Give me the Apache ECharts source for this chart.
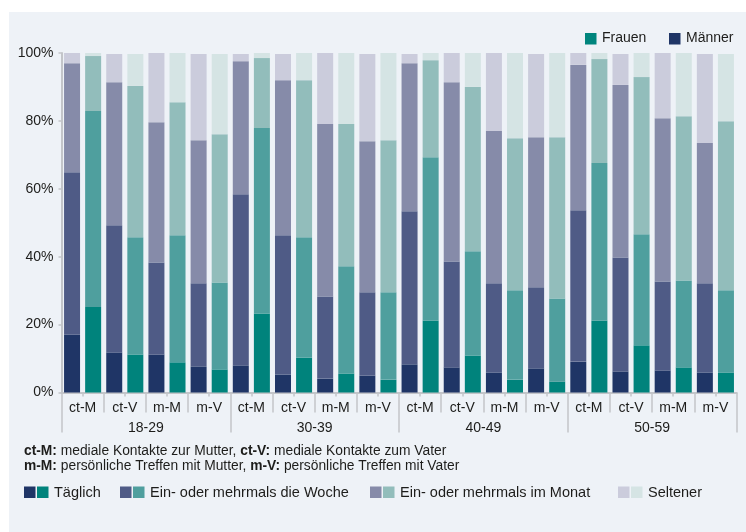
<!DOCTYPE html>
<html lang="de">
<head>
<meta charset="utf-8">
<title>Kontakte zu Eltern nach Alter</title>
<script src="https://cdn.jsdelivr.net/npm/echarts@6/dist/echarts.min.js"></script>
<style>
  html, body { margin: 0; padding: 0; background: #ffffff; }
  #panel { position: absolute; left: 9px; top: 12px; width: 737px; height: 520px; background: #eef2f7; }
  #chart { position: absolute; left: 0; top: 0; width: 746px; height: 532px; }
</style>
</head>
<body>
<div id="panel"></div>
<div id="chart"></div>
<script>
// Age groups and contact types (ct = mediale Kontakte, m = persönliche Treffen)
const ageGroups = ['18-29', '30-39', '40-49', '50-59'];
const contactTypes = ['ct-M', 'ct-V', 'm-M', 'm-V'];
const yTicks = [0, 20, 40, 60, 80, 100];

// Shares in percent, order: per age group ct-M, ct-V, m-M, m-V
const maleDaily   = [17.0, 11.8, 11.2, 7.7,  8.0, 5.3, 4.1, 5.0,  8.3, 7.4, 5.9, 7.1,  9.1, 6.2, 6.5, 5.9];
const maleWeekly  = [47.9, 37.5, 27.1, 24.5, 50.4, 41.0, 24.2, 24.5, 45.1, 31.2, 26.3, 23.9, 44.6, 33.6, 26.2, 26.3];
const maleMonthly = [32.1, 42.1, 41.3, 42.1, 39.2, 45.7, 50.8, 44.5, 43.6, 52.8, 44.8, 44.2, 42.8, 50.8, 48.1, 41.3];
const maleRarely  = [3.0, 8.3, 20.4, 25.4,  2.1, 7.7, 20.9, 25.7,  2.7, 8.6, 23.0, 24.5,  3.5, 9.1, 19.2, 26.2];

const femaleDaily   = [25.2, 11.2, 8.9, 6.8,  23.3, 10.3, 5.6, 3.8,  21.2, 10.9, 3.8, 3.2,  21.2, 13.9, 7.4, 5.9];
const femaleWeekly  = [57.7, 34.5, 37.4, 25.6, 54.6, 35.4, 31.6, 25.7, 48.1, 30.7, 26.3, 24.5, 46.4, 32.7, 25.6, 24.2];
const femaleMonthly = [16.2, 44.6, 39.2, 43.7, 20.6, 46.3, 41.9, 44.8, 28.6, 48.4, 44.8, 47.5, 30.6, 46.3, 48.4, 49.8];
const femaleRarely  = [0.9, 9.4, 14.5, 23.6,  1.5, 8.0, 20.9, 25.7,  2.1, 10.0, 25.1, 24.8,  1.8, 7.1, 18.6, 19.8];

const levelNames = ['Täglich', 'Ein- oder mehrmals die Woche', 'Ein- oder mehrmals im Monat', 'Seltener'];
const maleColors   = ['#1f3566', '#4f5b86', '#868ba9', '#cbccdc'];
const femaleColors = ['#00837c', '#4f9f9e', '#92bdbb', '#d5e4e4'];

const FONT = "'Liberation Sans', Arial, sans-serif";
const TEXT = '#1d1d1b';
const AXIS_GREY = '#c3c5c9';

// Category lists for the three stacked x-axis rows
const barCats = [], subCats = [];
ageGroups.forEach(g => contactTypes.forEach(t => {
  subCats.push(g + '|' + t);
  barCats.push(g + '|' + t + '|M', g + '|' + t + '|F');
}));

const maleLevels = [maleDaily, maleWeekly, maleMonthly, maleRarely];
const femaleLevels = [femaleDaily, femaleWeekly, femaleMonthly, femaleRarely];

// One stacked series per frequency level; men and women alternate along the axis
const series = levelNames.map((name, k) => {
  const data = [];
  for (let i = 0; i < subCats.length; i++) {
    data.push({ value: maleLevels[k][i], itemStyle: { color: maleColors[k] } });
    data.push({ value: femaleLevels[k][i], itemStyle: { color: femaleColors[k] } });
  }
  return { name, type: 'bar', stack: 'share', barWidth: 16, xAxisIndex: 0, data, silent: true };
});

// Legend blocks (paired swatches) along the bottom
const legendX = [24, 120, 370, 618];
const graphics = [];
levelNames.forEach((name, k) => {
  const x = legendX[k];
  graphics.push({ type: 'rect', left: x, top: 486.5, shape: { width: 11.5, height: 11.5 }, style: { fill: maleColors[k] } });
  graphics.push({ type: 'rect', left: x + 13, top: 486.5, shape: { width: 11.5, height: 11.5 }, style: { fill: femaleColors[k] } });
  graphics.push({ type: 'text', left: x + 30, top: 485, style: { text: name, font: '14.5px ' + FONT, fill: TEXT } });
});

// Gender legend in the top right corner
graphics.push({ type: 'rect', left: 585, top: 33, shape: { width: 11.5, height: 11.5 }, style: { fill: '#00857d' } });
graphics.push({ type: 'text', left: 602, top: 31, style: { text: 'Frauen', font: '14px ' + FONT, fill: TEXT } });
graphics.push({ type: 'rect', left: 669, top: 33, shape: { width: 11.5, height: 11.5 }, style: { fill: '#1f3566' } });
graphics.push({ type: 'text', left: 686, top: 31, style: { text: 'Männer', font: '14px ' + FONT, fill: TEXT } });

// Abbreviation notes
const noteRich = { b: { fontWeight: 'bold', fontSize: 13.8, fontFamily: FONT, fill: TEXT }, n: { fontSize: 13.8, fontFamily: FONT, fill: TEXT } };
graphics.push({ type: 'text', left: 24, top: 444.5, style: {
  text: '{b|ct-M:}{n| mediale Kontakte zur Mutter, }{b|ct-V:}{n| mediale Kontakte zum Vater}', rich: noteRich } });
graphics.push({ type: 'text', left: 24, top: 459.5, style: {
  text: '{b|m-M:}{n| persönliche Treffen mit Mutter, }{b|m-V:}{n| persönliche Treffen mit Vater}', rich: noteRich } });

const option = {
  animation: false,
  backgroundColor: 'transparent',
  textStyle: { fontFamily: FONT },
  grid: { left: 61.5, right: 9.5, top: 53, bottom: 139.5, containLabel: false },
  xAxis: [
    {
      type: 'category', data: barCats, position: 'bottom', offset: 0,
      axisLine: { show: true, lineStyle: { color: AXIS_GREY, width: 2 } },
      axisTick: { show: true, interval: 0, length: 4, lineStyle: { color: AXIS_GREY, width: 1.5 } },
      axisLabel: { show: false }, splitLine: { show: false }
    },
    {
      type: 'category', data: subCats, position: 'bottom', offset: 0,
      axisLine: { show: false },
      axisTick: { show: true, interval: 0, length: 20, lineStyle: { color: AXIS_GREY, width: 1.5 } },
      axisLabel: { show: true, interval: 0, margin: 8.5, fontSize: 14, color: TEXT, fontFamily: FONT,
        formatter: v => v.split('|')[1] },
      splitLine: { show: false }
    },
    {
      type: 'category', data: ageGroups, position: 'bottom', offset: 0,
      axisLine: { show: false },
      axisTick: { show: true, interval: 0, length: 40, lineStyle: { color: AXIS_GREY, width: 1.5 } },
      axisLabel: { show: true, interval: 0, margin: 28.5, fontSize: 14, color: TEXT, fontFamily: FONT },
      splitLine: { show: false }
    }
  ],
  yAxis: {
    type: 'value', min: yTicks[0], max: yTicks[yTicks.length - 1], interval: yTicks[1] - yTicks[0],
    axisLine: { show: true, lineStyle: { color: AXIS_GREY, width: 2 } },
    axisTick: { show: true, length: 3, lineStyle: { color: AXIS_GREY, width: 1.5 } },
    axisLabel: { margin: 8, fontSize: 14, color: TEXT, fontFamily: FONT, formatter: '{value}%' },
    splitLine: { show: false }
  },
  graphic: graphics,
  series
};

const chart = echarts.init(document.getElementById('chart'), null, { renderer: 'canvas' });
chart.setOption(option);
</script>
</body>
</html>
